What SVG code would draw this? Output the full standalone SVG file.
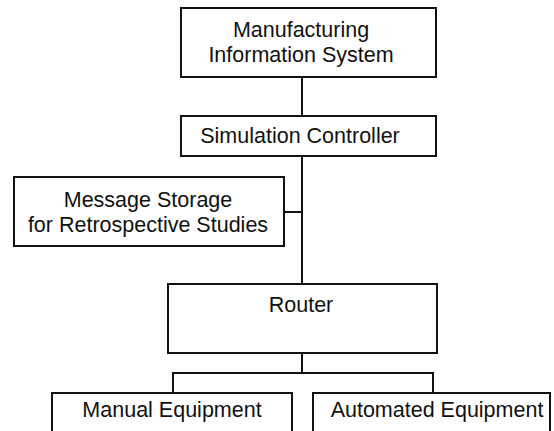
<svg xmlns="http://www.w3.org/2000/svg" width="554" height="431" viewBox="0 0 554 431">
<style>
.box{fill:#fff;stroke:#111;stroke-width:2}
.ln{fill:none;stroke:#111;stroke-width:2}
text{font-family:"Liberation Sans",Arial,sans-serif;font-size:21.5px;fill:#111;text-anchor:middle}
</style>
<rect width="554" height="431" fill="#fff"/>
<g id="connectors">
<line class="ln" x1="302" y1="77" x2="302" y2="116"/>
<line class="ln" x1="302" y1="156" x2="302" y2="284"/>
<line class="ln" x1="284" y1="212" x2="302" y2="212"/>
<line class="ln" x1="302" y1="353" x2="302" y2="373"/>
<polyline class="ln" points="173,393 173,373 433,373 433,393"/>
</g>
<g id="mis">
<rect class="box" x="181" y="8" width="255" height="69"/>
<text x="301" y="37">Manufacturing</text>
<text x="301" y="62">Information System</text>
</g>
<g id="simctrl">
<rect class="box" x="181" y="116" width="255" height="40"/>
<text x="300" y="143">Simulation Controller</text>
</g>
<g id="storage">
<rect class="box" x="14" y="177" width="270" height="69"/>
<text x="148" y="207">Message Storage</text>
<text x="148" y="232">for Retrospective Studies</text>
</g>
<g id="router">
<rect class="box" x="168" y="284" width="269" height="69"/>
<text x="301" y="312">Router</text>
</g>
<g id="manual">
<rect class="box" x="52" y="393" width="240" height="50"/>
<text x="172" y="417">Manual Equipment</text>
</g>
<g id="automated">
<rect class="box" x="313" y="393" width="237" height="50"/>
<text x="437" y="417">Automated Equipment</text>
</g>
</svg>
